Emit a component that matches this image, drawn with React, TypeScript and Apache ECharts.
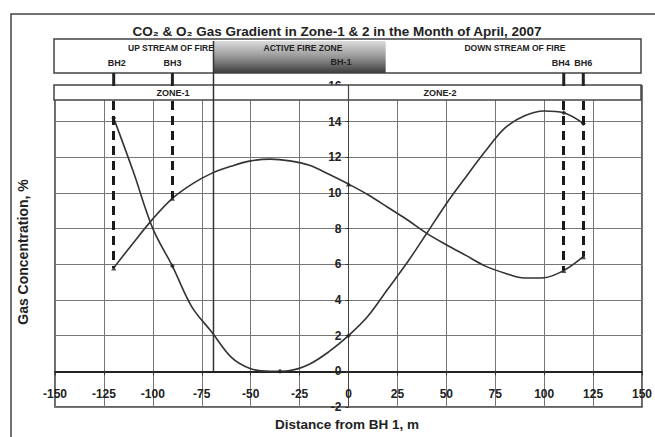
import React, { useEffect, useRef } from "react";
import * as echarts from "echarts";

// ---- data ----
const curveX = [-120, -110, -100, -90, -80, -70, -60, -50, -40, -30, -20, -10, 0, 10, 20, 30, 40, 50, 60, 70, 80, 90, 100, 110, 120];
const o2Curve = [14.2, 11.2, 8.0, 5.9, 3.6, 2.22, 0.8, 0.15, 0.0, 0.05, 0.4, 1.1, 2.0, 3.1, 4.6, 6.1, 7.74, 9.4, 10.9, 12.35, 13.65, 14.33, 14.6, 14.5, 13.9];
const co2Curve = [5.8, 7.2, 8.55, 9.7, 10.5, 11.1, 11.5, 11.8, 11.9, 11.8, 11.55, 11.05, 10.5, 9.9, 9.2, 8.5, 7.74, 7.1, 6.5, 5.9, 5.5, 5.23, 5.25, 5.65, 6.43];

const o2PointX = [-120, -90, -35, 0, 110, 120];
const o2PointY = [14.2, 5.9, 0, 2.0, 14.5, 13.9];
const co2PointX = [-120, -90, 0, 110, 120];
const co2PointY = [5.8, 9.7, 10.5, 5.65, 6.43];

const bhNames = ["BH2", "BH3", "BH4", "BH6"];
const bhX = [-120, -90, 110, 120];
const bhCo2 = [5.8, 9.7, 5.65, 6.43];
const fireZone = [-69, 19];

const xTicks = { min: -150, max: 150, interval: 25 };
const yTicks = { min: -2, max: 16, interval: 2 };

// ---- layout ----
const W = 655;
const H = 437;
const G = { left: 55, right: 13, top: 86, bottom: 30 };
const plotW = W - G.left - G.right;
const plotH = H - G.top - G.bottom;
const px = (v: number) => G.left + ((v - xTicks.min) / (xTicks.max - xTicks.min)) * plotW;
const py = (v: number) => G.top + ((yTicks.max - v) / (yTicks.max - yTicks.min)) * plotH;

const FONT = "'Liberation Sans', Arial, sans-serif";
const NARROW = "'Liberation Sans Narrow', 'Liberation Sans', Arial, sans-serif";
const INK = "#222";

export default function App() {
  const ref = useRef<HTMLDivElement>(null);
  useEffect(() => {
    if (!ref.current) return;
    const chart = echarts.init(ref.current, undefined, { renderer: "svg" });
    const small = (text: string, x: number, y: number, size = 8.5, align = "center") => ({
      type: "text",
      z: 60,
      style: { text, x, y, fill: INK, font: `bold ${size}px ${NARROW}`, textAlign: align, textVerticalAlign: "middle" },
    });
    const graphic: any[] = [
      { type: "rect", z: 1, shape: { x: 11, y: 14, width: 680, height: 460 }, style: { fill: "none", stroke: "#444", lineWidth: 1.5 } },
      {
        type: "text", z: 60,
        style: { text: "CO\u2082 & O\u2082 Gas Gradient in Zone-1 & 2 in the Month of April, 2007", x: 337, y: 31, fill: INK, font: `bold 13.5px ${NARROW}`, textAlign: "center", textVerticalAlign: "middle" },
      },
      { type: "rect", z: 50, shape: { x: 54, y: 39, width: 587, height: 34 }, style: { fill: "#fff", stroke: "#444", lineWidth: 1.5 } },
      {
        type: "rect", z: 51,
        shape: { x: px(fireZone[0]), y: 41, width: px(fireZone[1]) - px(fireZone[0]), height: 32 },
        style: {
          fill: new echarts.graphic.LinearGradient(0, 0, 0, 1, [
            { offset: 0, color: "#dcdcdc" },
            { offset: 0.5, color: "#969696" },
            { offset: 1, color: "#3c3c3c" },
          ]),
        },
      },
      small("UP STREAM OF FIRE", 171, 48),
      small("ACTIVE FIRE ZONE", 303, 48),
      small("DOWN STREAM OF FIRE", 515, 48),
      small("BH-1", 341, 62, 9),
      ...bhNames.map((n, i) => small(n, px(bhX[i]) + (i === 2 ? -3 : i === 0 ? 3 : 0), 63, 9)),
      ...bhX.map((v) => ({ type: "line", z: 52, shape: { x1: px(v), y1: 73, x2: px(v), y2: 86 }, style: { stroke: INK, lineWidth: 3 } })),
      { type: "rect", z: 50, shape: { x: 54, y: 85, width: 587, height: 15 }, style: { fill: "#fff", stroke: "#444", lineWidth: 1.5 } },
      { type: "line", z: 52, shape: { x1: px(0), y1: 85, x2: px(0), y2: 100 }, style: { stroke: "#444", lineWidth: 1.2 } },
      small("ZONE-1", 173, 93, 9),
      small("ZONE-2", 440, 93, 9),
      { type: "line", z: 53, shape: { x1: px(fireZone[0]), y1: 41, x2: px(fireZone[0]), y2: py(0) }, style: { stroke: "#333", lineWidth: 1.5 } },
      {
        type: "text", z: 60, x: 23, y: 252, rotation: Math.PI / 2,
        style: { text: "Gas Concentration, %", x: 0, y: 0, fill: INK, font: `bold 14px ${FONT}`, textAlign: "center", textVerticalAlign: "middle" },
      },
      {
        type: "text", z: 60,
        style: { text: "Distance from BH 1, m", x: 347, y: 424, fill: INK, font: `bold 13.5px ${FONT}`, textAlign: "center", textVerticalAlign: "middle" },
      },
    ];

    chart.setOption({
      animation: false,
      backgroundColor: "#fff",
      grid: { ...G, containLabel: false, outerBoundsMode: "none", show: true, borderColor: "#333", borderWidth: 1.5, backgroundColor: "transparent" },
      xAxis: {
        type: "value",
        ...xTicks,
        position: "bottom",
        offset: py(0) - py(yTicks.min),
        axisLine: { onZero: false, lineStyle: { color: "#222", width: 2 } },
        axisTick: { show: true, length: 4, lineStyle: { color: "#333" } },
        axisLabel: { margin: 17, fontSize: 12, color: INK, fontFamily: FONT, fontWeight: "bold", showMinLabel: true, showMaxLabel: true },
        splitLine: { show: true, lineStyle: { color: "#767676", width: 1 } },
      },
      yAxis: {
        type: "value",
        ...yTicks,
        position: "left",
        offset: -(px(0) - px(xTicks.min)),
        axisLine: { show: true, onZero: false, lineStyle: { color: "#444", width: 1 } },
        axisTick: { show: true, length: 3, lineStyle: { color: "#333" } },
        axisLabel: { margin: 7, fontSize: 12, color: INK, fontFamily: FONT, fontWeight: "bold" },
        splitLine: { show: true, lineStyle: { color: "#767676", width: 1 } },
      },
      series: [
        {
          name: "O2", type: "line", smooth: 0.35, showSymbol: false,
          data: curveX.map((x, i) => [x, o2Curve[i]]),
          lineStyle: { color: "#333", width: 1.6 }, z: 3,
        },
        {
          name: "CO2", type: "line", smooth: 0.35, showSymbol: false,
          data: curveX.map((x, i) => [x, co2Curve[i]]),
          lineStyle: { color: "#333", width: 1.6 }, z: 3,
        },
        {
          name: "O2 points", type: "scatter", symbol: "diamond", symbolSize: 5,
          data: o2PointX.map((x, i) => [x, o2PointY[i]]),
          itemStyle: { color: "#222" }, z: 4,
        },
        {
          name: "CO2 points", type: "scatter", symbol: "triangle", symbolSize: 5,
          data: co2PointX.map((x, i) => [x, co2PointY[i]]),
          itemStyle: { color: "#222" }, z: 4,
          markLine: {
            silent: true, symbol: "none", label: { show: false },
            lineStyle: { color: "#1a1a1a", width: 3, type: [9, 6] },
            data: bhX.map((x, i) => [{ coord: [x, 16] }, { coord: [x, bhCo2[i]] }]),
          },
        },
      ],
      graphic,
    });
    return () => chart.dispose();
  }, []);
  return <div ref={ref} style={{ position: "fixed", left: 0, top: 0, width: W, height: H }} />;
}
